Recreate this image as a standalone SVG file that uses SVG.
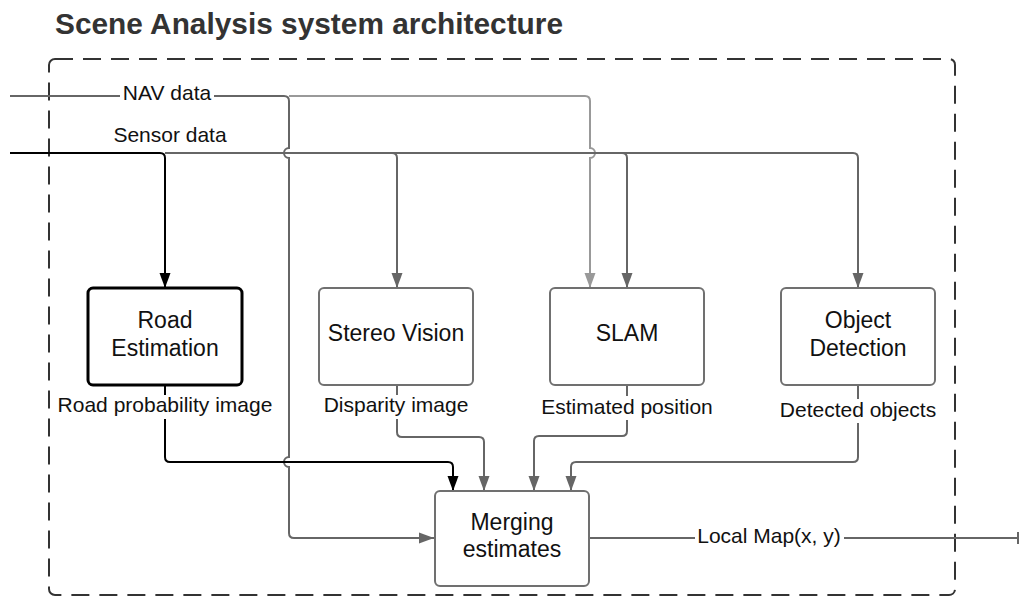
<svg xmlns="http://www.w3.org/2000/svg" width="1019" height="596" viewBox="0 0 1019 596">
<defs>
<style>
.title{font-family:"Liberation Sans",Arial,sans-serif;font-weight:bold;font-size:29px;fill:#333}
.box{fill:#fff;stroke:#707070;stroke-width:2}
.box.bold{stroke:#000;stroke-width:3}
.bt{font-family:"Liberation Sans",Arial,sans-serif;font-size:23px;fill:#111;text-anchor:middle}
.lt{font-family:"Liberation Sans",Arial,sans-serif;font-size:21px;fill:#111;text-anchor:middle}
.c{fill:none;stroke:#666;stroke-width:2}
.c.k{stroke:#000}
.c.l{stroke:#999}
.bg{fill:#fff}
</style>
<marker id="ag" markerUnits="userSpaceOnUse" markerWidth="15" markerHeight="12" refX="15" refY="6" orient="auto"><path d="M0,0.5 L15,6 L0,11.5 z" fill="#666"/></marker>
<marker id="ak" markerUnits="userSpaceOnUse" markerWidth="15" markerHeight="12" refX="15" refY="6" orient="auto"><path d="M0,0.5 L15,6 L0,11.5 z" fill="#000"/></marker>
<marker id="al" markerUnits="userSpaceOnUse" markerWidth="15" markerHeight="12" refX="15" refY="6" orient="auto"><path d="M0,0.5 L15,6 L0,11.5 z" fill="#999"/></marker>
</defs>
<rect width="1019" height="596" fill="#fff"/>
<text class="title" x="55" y="34" textLength="508" lengthAdjust="spacingAndGlyphs">Scene Analysis system architecture</text>
<rect x="49" y="59" width="906" height="536" rx="6" fill="none" stroke="#333" stroke-width="2" stroke-dasharray="18 10"/>

<g id="connectors">
<path class="c l" d="M289,96 H585 Q590,96 590,101 V148 A5,5 0 0 1 590,158 V288" marker-end="url(#al)"/>
<path class="c" d="M10,96 H284 Q289,96 289,101 V148 A5,5 0 0 0 289,158 V457 A5,5 0 0 0 289,467 V533 Q289,538 294,538 H434" marker-end="url(#ag)"/>
<path class="c" d="M165,153 H392 Q397,153 397,158 V288" marker-end="url(#ag)"/>
<path class="c" d="M165,153 H622 Q627,153 627,158 V288" marker-end="url(#ag)"/>
<path class="c" d="M165,153 H853 Q858,153 858,158 V288" marker-end="url(#ag)"/>
<path class="c k" d="M10,153 H160 Q165,153 165,158 V288" marker-end="url(#ak)"/>
<path class="c k" d="M165,385 V457 Q165,462 170,462 H448 Q453,462 453,467 V491" marker-end="url(#ak)"/>
<path class="c" d="M397,385 V432 Q397,437 402,437 H479 Q484,437 484,442 V491" marker-end="url(#ag)"/>
<path class="c" d="M627,385 V431 Q627,436 622,436 H539 Q534,436 534,441 V491" marker-end="url(#ag)"/>
<path class="c" d="M858,385 V457 Q858,462 853,462 H576 Q571,462 571,467 V491" marker-end="url(#ag)"/>
<path class="c" d="M589,538 H1018 M1018,532 V544"/>
<rect class="bg" x="120" y="84" width="94" height="22"/>
<text class="lt" x="167" y="100">NAV data</text>
<text class="lt" x="170" y="142">Sensor data</text>
<rect class="bg" x="55" y="395" width="220" height="24"/>
<text class="lt" x="165" y="412">Road probability image</text>
<rect class="bg" x="321" y="395" width="150" height="24"/>
<text class="lt" x="396" y="412">Disparity image</text>
<rect class="bg" x="539" y="396" width="176" height="24"/>
<text class="lt" x="627" y="414">Estimated position</text>
<rect class="bg" x="777" y="399" width="162" height="24"/>
<text class="lt" x="858" y="417">Detected objects</text>
<rect class="bg" x="695" y="526" width="149" height="24"/>
<text class="lt" x="769" y="543">Local Map(x, y)</text>
</g>

<g id="road-estimation">
<rect class="box bold" x="88" y="288" width="154" height="97" rx="5"/>
<text class="bt" x="165" y="328">Road</text>
<text class="bt" x="165" y="356">Estimation</text>
</g>
<g id="stereo-vision">
<rect class="box" x="319" y="288" width="154" height="97" rx="5"/>
<text class="bt" x="396" y="341">Stereo Vision</text>
</g>
<g id="slam">
<rect class="box" x="550" y="288" width="154" height="97" rx="5"/>
<text class="bt" x="627" y="341">SLAM</text>
</g>
<g id="object-detection">
<rect class="box" x="781" y="288" width="154" height="97" rx="5"/>
<text class="bt" x="858" y="328">Object</text>
<text class="bt" x="858" y="356">Detection</text>
</g>
<g id="merging-estimates">
<rect class="box" x="435" y="491" width="154" height="95" rx="5"/>
<text class="bt" x="512" y="530">Merging</text>
<text class="bt" x="512" y="557">estimates</text>
</g>
</svg>
